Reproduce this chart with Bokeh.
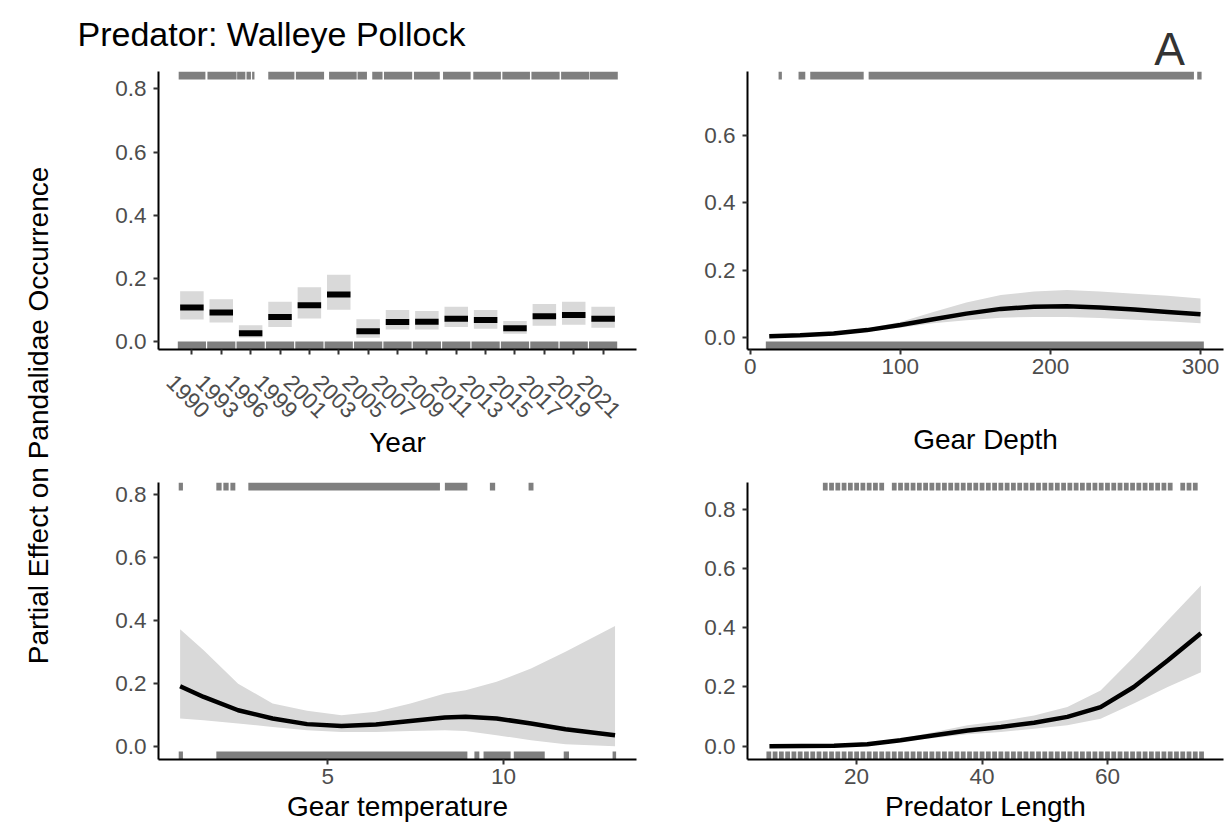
import math
from bokeh.plotting import figure
from bokeh.layouts import column, row
from bokeh.models import Range1d, FixedTicker, ColumnDataSource, NumeralTickFormatter, Label
from bokeh.core.properties import value
from bokeh.embed import file_html
from bokeh.resources import INLINE

FONT = "Liberation Sans"
RUG = "#7f7f7f"
RIB = "#d9d9d9"
TICK_FS = "22.5px"
TITLE_FS = "28px"

# ---------------- data ----------------
years = ["1990", "1993", "1996", "1999", "2001", "2003", "2005", "2007",
         "2009", "2011", "2013", "2015", "2017", "2019", "2021"]
year_fit = [0.109, 0.093, 0.027, 0.079, 0.116, 0.150, 0.034, 0.063,
            0.064, 0.073, 0.069, 0.043, 0.081, 0.085, 0.073]
year_lo = [0.071, 0.061, 0.014, 0.047, 0.074, 0.102, 0.013, 0.039,
           0.039, 0.047, 0.042, 0.026, 0.051, 0.054, 0.045]
year_hi = [0.160, 0.135, 0.053, 0.127, 0.173, 0.212, 0.072, 0.101,
           0.098, 0.111, 0.101, 0.066, 0.120, 0.127, 0.111]
# rug spans (in year-index units) of presences (top); absences occur in every year
year_rug_top = [(-0.45, 0.46), (0.53, 1.52), (1.54, 1.82), (1.86, 2.01), (2.05, 2.13),
                (2.60, 3.49), (3.54, 4.50), (4.67, 5.61), (5.64, 5.96), (6.14, 6.49),
                (6.54, 7.50), (7.56, 8.44), (8.55, 9.49), (9.58, 10.52), (10.57, 11.51),
                (11.56, 12.52), (12.57, 13.53), (13.55, 14.50)]

depth_x = [12.7, 33.3, 55.6, 77.8, 100, 122, 144, 167, 189, 211, 233, 256, 278, 300]
depth_fit = [0.004, 0.007, 0.012, 0.022, 0.037, 0.054, 0.071, 0.085, 0.091, 0.093, 0.089, 0.083, 0.076, 0.069]
depth_lo = [0.002, 0.005, 0.009, 0.017, 0.029, 0.042, 0.051, 0.059, 0.061, 0.061, 0.058, 0.053, 0.048, 0.042]
depth_hi = [0.006, 0.010, 0.016, 0.027, 0.046, 0.076, 0.104, 0.126, 0.137, 0.141, 0.137, 0.130, 0.124, 0.116]
depth_rug_top = [(18.9, 21.1), (32.2, 36.7), (40.0, 75.6), (78.9, 295.6), (297.8, 300.7)]
depth_rug_bot = [(10.4, 302.2)]

temp_x = [0.80, 1.47, 2.45, 3.43, 4.41, 5.39, 6.37, 7.35, 8.33, 8.92, 9.80, 10.78, 11.76, 13.17]
temp_fit = [0.192, 0.158, 0.116, 0.090, 0.072, 0.066, 0.071, 0.082, 0.093, 0.095, 0.090, 0.074, 0.056, 0.037]
temp_lo = [0.090, 0.084, 0.074, 0.063, 0.053, 0.047, 0.047, 0.050, 0.053, 0.050, 0.037, 0.021, 0.008, 0.002]
temp_hi = [0.372, 0.306, 0.200, 0.137, 0.114, 0.100, 0.111, 0.137, 0.169, 0.179, 0.206, 0.248, 0.301, 0.383]
temp_rug_top = [(0.76, 0.88), (1.83, 1.98), (2.03, 2.18), (2.23, 2.37), (2.74, 8.19),
                (8.33, 8.97), (9.61, 9.76), (10.71, 10.85)]
temp_rug_bot = [(0.76, 0.88), (1.83, 8.97), (9.17, 9.31), (9.43, 10.20), (10.29, 11.17),
                (11.71, 11.86), (13.10, 13.20)]

len_x = [6.1, 16.4, 21.7, 27.0, 32.4, 37.7, 43.0, 48.3, 53.6, 58.9, 64.2, 69.6, 74.9]
len_fit = [0.000, 0.002, 0.007, 0.020, 0.037, 0.053, 0.065, 0.079, 0.099, 0.132, 0.200, 0.289, 0.381]
len_lo = [0.000, 0.001, 0.005, 0.015, 0.028, 0.040, 0.048, 0.059, 0.071, 0.093, 0.144, 0.200, 0.250]
len_hi = [0.001, 0.003, 0.009, 0.025, 0.048, 0.071, 0.085, 0.104, 0.132, 0.188, 0.301, 0.424, 0.542]
# observed lengths (cm) as inclusive integer runs
len_rug_top_runs = [(15, 24), (26, 70), (72, 74)]
len_rug_bot_runs = [(6, 75)]


# ---------------- helpers ----------------
def style_axes(p):
    for ax in (p.xaxis, p.yaxis):
        ax.axis_line_color = "black"
        ax.axis_line_width = 2
        ax.major_tick_line_color = "#333333"
        ax.major_tick_line_width = 2
        ax.major_tick_out = 5
        ax.major_tick_in = 0
        ax.minor_tick_line_color = None
        ax.major_label_text_font = FONT
        ax.major_label_text_font_size = TICK_FS
        ax.major_label_text_color = "#4d4d4d"


def make_panel(width, height, bl, br, bt, bb, xr, yr, xticks, yticks, xlabel=None, label_standoff=4):
    p = figure(width=width, height=height, x_range=xr, y_range=Range1d(*yr),
               output_backend="svg", toolbar_location=None,
               min_border_left=bl, min_border_right=br, min_border_top=bt, min_border_bottom=bb)
    p.grid.visible = False
    p.outline_line_color = None
    p.background_fill_color = "white"
    p.border_fill_color = "white"
    style_axes(p)
    p.xaxis.ticker = FixedTicker(ticks=xticks)
    p.yaxis.ticker = FixedTicker(ticks=yticks)
    p.yaxis.formatter = NumeralTickFormatter(format="0.0")
    p.yaxis.major_label_standoff = 7
    p.xaxis.major_label_standoff = 4
    if xlabel:
        p.xaxis.axis_label = xlabel
        p.xaxis.axis_label_text_font = FONT
        p.xaxis.axis_label_text_font_size = TITLE_FS
        p.xaxis.axis_label_text_font_style = "normal"
        p.xaxis.axis_label_text_color = "black"
        p.xaxis.axis_label_standoff = label_standoff
    return p


def rug(p, spans, yr, frame_h, where, px=8):
    ppu = frame_h / (yr[1] - yr[0])
    h = px / ppu
    if where == "top":
        b, t = yr[1] - h, yr[1]
    else:
        b, t = yr[0], yr[0] + h
    src = ColumnDataSource(dict(left=[s[0] for s in spans], right=[s[1] for s in spans],
                                bottom=[b] * len(spans), top=[t] * len(spans)))
    p.quad(left="left", right="right", bottom="bottom", top="top", source=src,
           fill_color=RUG, line_color=None)


def bare(width, height, xr, yr, **kw):
    f = figure(width=width, height=height, x_range=xr, y_range=yr,
               output_backend="svg", toolbar_location=None, x_axis_type=None, y_axis_type=None,
               **kw)
    f.grid.visible = False
    f.outline_line_color = None
    f.background_fill_color = "white"
    f.border_fill_color = "white"
    return f


FH_TOP = 278
FH_BOT = 277
HEAD_H = 71          # header strip height; top-row frames start right below it

# ---------------- Year panel (plot + separate strip for rotated labels) ----------------
yr_tl = (-0.024, 0.855)
idx = list(range(len(years)))
x_tl = Range1d(-1.137, 15.137)
p1 = make_panel(630, 292, 98, 54, 0, 14, x_tl, yr_tl, idx, [0, 0.2, 0.4, 0.6, 0.8])
p1.xaxis.major_label_overrides = {i: "" for i in idx}
p1.xaxis.major_label_text_font_size = "1px"
p1.xaxis.major_label_standoff = 0
rug(p1, year_rug_top, yr_tl, FH_TOP, "top")
rug(p1, [(i - 0.48, i + 0.48) for i in idx], yr_tl, FH_TOP, "bottom")
ysrc = ColumnDataSource(dict(x=idx, fit=year_fit, lo=year_lo, hi=year_hi,
                             left=[i - 0.4 for i in idx], right=[i + 0.4 for i in idx]))
p1.quad(left="left", right="right", bottom="lo", top="hi", source=ysrc,
        fill_color=RIB, line_color=None)
p1.rect(x="x", y="fit", width=0.8, height=6, height_units="screen", source=ysrc,
        fill_color="black", line_color=None)

# strip below the year axis: page y = 460 - y
p1lab = bare(630, 97, x_tl, Range1d(0, 97), min_border_left=98, min_border_right=54,
             min_border_top=0, min_border_bottom=0)
lab_src = ColumnDataSource(dict(x=idx, y=[460 - 396] * len(idx), text=years))
p1lab.text(x="x", y="y", text="text", source=lab_src, angle=-math.pi / 4,
           text_align="center", text_baseline="middle", x_offset=-4,
           text_font=value(FONT), text_font_size=TICK_FS, text_color="#4d4d4d")
p1lab.text(x=[(x_tl.start + x_tl.end) / 2], y=[460 - 442], text=["Year"], text_align="center",
           text_baseline="alphabetic", text_font=value(FONT), text_font_size=TITLE_FS,
           text_color="black")

# ---------------- Gear depth panel ----------------
yr_tr = (-0.0356, 0.790)
p2 = make_panel(535, 389, 57, 2, 0, 111, Range1d(-1.8, 315.3), yr_tr, [0, 100, 200, 300],
                [0, 0.2, 0.4, 0.6], "Gear Depth", 47)
rug(p2, depth_rug_top, yr_tr, FH_TOP, "top")
rug(p2, depth_rug_bot, yr_tr, FH_TOP, "bottom")
p2.varea(x=depth_x, y1=depth_lo, y2=depth_hi, fill_color=RIB)
p2.line(x=depth_x, y=depth_fit, line_width=4.5, line_color="black")

# ---------------- Gear temperature panel ----------------
yr_bl = (-0.040, 0.837)
p3 = make_panel(630, 376, 98, 54, 22, 77, Range1d(0.185, 13.78), yr_bl, [5, 10],
                [0, 0.2, 0.4, 0.6, 0.8], "Gear temperature", 4)
rug(p3, temp_rug_top, yr_bl, FH_BOT, "top")
rug(p3, temp_rug_bot, yr_bl, FH_BOT, "bottom")
p3.varea(x=temp_x, y1=temp_lo, y2=temp_hi, fill_color=RIB)
p3.line(x=temp_x, y=temp_fit, line_width=4.5, line_color="black")

# ---------------- Predator length panel ----------------
yr_br = (-0.0448, 0.890)
p4 = make_panel(535, 376, 57, 2, 22, 77, Range1d(2.6, 78.5), yr_br, [20, 40, 60],
                [0, 0.2, 0.4, 0.6, 0.8], "Predator Length", 4)


def runs_to_ticks(runs):
    out = []
    for a, b in runs:
        for v in range(a, b + 1):
            out.append((v - 0.38, v + 0.38))
    return out


rug(p4, runs_to_ticks(len_rug_top_runs), yr_br, FH_BOT, "top")
rug(p4, runs_to_ticks(len_rug_bot_runs), yr_br, FH_BOT, "bottom")
p4.varea(x=len_x, y1=len_lo, y2=len_hi, fill_color=RIB)
p4.line(x=len_x, y=len_fit, line_width=4.5, line_color="black")

# ---------------- header & y label ----------------
head = bare(1225, HEAD_H, Range1d(0, 1225), Range1d(0, HEAD_H), min_border=0)
head.text(x=[77], y=[HEAD_H - 33.5], text=["Predator: Walleye Pollock"], text_align="left",
          text_baseline="alphabetic", text_font=value(FONT), text_font_size="34px",
          text_color="black")
head.add_layout(Label(x=1169, y=HEAD_H - 48, text="A", text_align="center",
                      text_baseline="alphabetic", text_font=FONT, text_font_size="46px",
                      text_color="#333333"))

ylab = bare(60, 836 - HEAD_H, Range1d(0, 60), Range1d(0, 836 - HEAD_H), min_border=0)
ylab.text(x=[38], y=[836 - 415], text=["Partial Effect on Pandalidae Occurrence"],
          angle=math.pi / 2, text_align="center", text_baseline="alphabetic",
          text_font=value(FONT), text_font_size=TITLE_FS, text_color="black")

layout = column(head, row(ylab, column(row(column(p1, p1lab), p2), row(p3, p4))))

open("out.html", "w").write(file_html(layout, INLINE))
